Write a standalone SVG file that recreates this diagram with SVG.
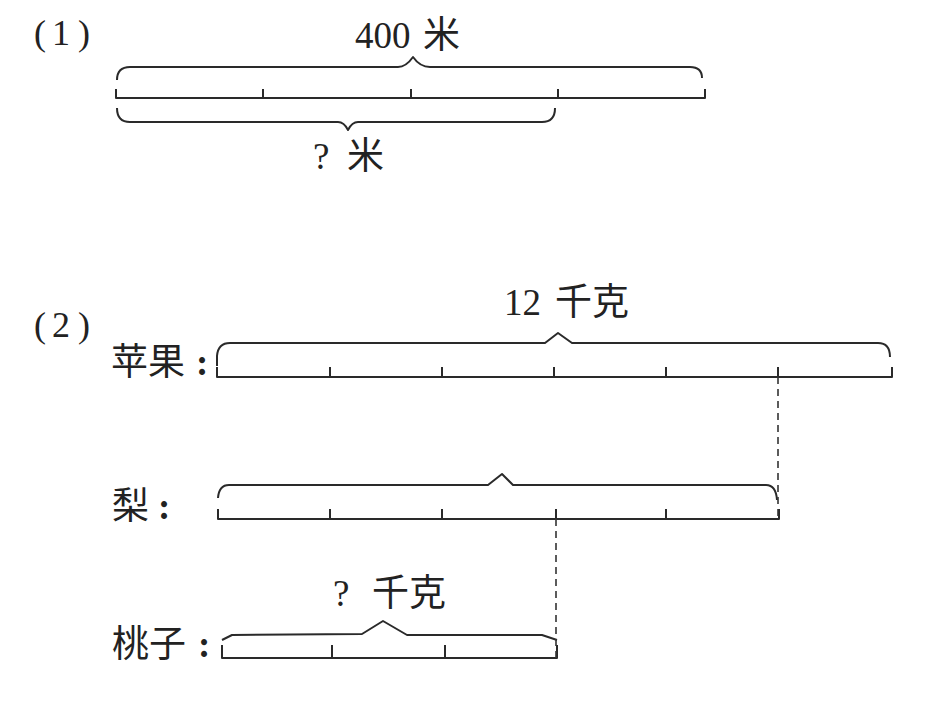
<svg xmlns="http://www.w3.org/2000/svg" width="932" height="712" viewBox="0 0 932 712">
<style>
  .t { font-family: "Liberation Serif", "Noto Sans CJK SC", serif; font-size: 37px; fill: #222; }
  .lab { font-family: "Liberation Serif", "Noto Sans CJK SC", serif; font-size: 36px; fill: #222; }
  .ln { fill: none; stroke: #2a2a2a; stroke-width: 2; stroke-linejoin: round; stroke-linecap: butt; }
  .dash { fill: none; stroke: #333; stroke-width: 1.6; stroke-dasharray: 7 5; }
  .colon { font-weight: bold; }
</style>
<rect width="932" height="712" fill="#fff"/>

<g id="part1">
  <text class="lab" y="45"><tspan x="34">(</tspan><tspan x="52">1</tspan><tspan x="78">)</tspan></text>
  <g id="p1-bar">
    <path class="ln" d="M116,89 L116,98 L705,98 L705,89 M263,89 L263,98 M411,89 L411,98 M558,89 L558,98"/>
  </g>
  <g id="p1-top-brace">
    <path class="ln" d="M117,80 Q117,67 130,67 L398,67 Q406,67 413,57 Q420,67 430,67 L690,67 Q702,67 702,78"/>
    <text class="t" y="48"><tspan x="355">400</tspan> <tspan x="423">米</tspan></text>
  </g>
  <g id="p1-bottom-brace">
    <path class="ln" d="M117,108 Q117,122 130,122 L338,122 Q344,122 348,130 Q352,122 358,122 L542,122 Q555,122 555,108"/>
    <text class="t" y="169"><tspan x="313">?</tspan> <tspan x="347">米</tspan></text>
  </g>
</g>

<g id="part2">
  <text class="lab" y="337"><tspan x="34">(</tspan><tspan x="52">2</tspan><tspan x="78">)</tspan></text>

  <g id="apple">
    <text class="t" x="111" y="375">苹果<tspan class="colon" dx="11">:</tspan></text>
    <path class="ln" d="M217,367 L217,377 L892,377 L892,367 M330,367 L330,377 M442,367 L442,377 M554,367 L554,377 M666,367 L666,377 M778,367 L778,377"/>
    <path class="ln" d="M217,366 L217,356 Q218,343 230,343 L545,343 L558,333 L572,343 L878,343 Q890,343 890,357"/>
    <text class="t" y="315"><tspan x="504">12</tspan> <tspan x="555">千克</tspan></text>
  </g>

  <g id="pear">
    <text class="t" x="112" y="519">梨<tspan class="colon" dx="9">:</tspan></text>
    <path class="ln" d="M218,509 L218,519 L779,519 L779,509 M330,509 L330,519 M442,509 L442,519 M556,509 L556,519 M666,509 L666,519"/>
    <path class="ln" d="M218,498 Q219,485 229,485 L488,485 L502,474 L513,485 L766,485 Q776,485 777,500"/>
  </g>

  <g id="peach">
    <text class="t" x="112" y="657">桃子<tspan class="colon" dx="12">:</tspan></text>
    <path class="ln" d="M222,645 L222,658 L557,658 L557,645 M332,645 L332,658 M445,645 L445,658"/>
    <path class="ln" d="M222,640 L232,635 L362,634 L383,621 L407,635 L542,635 L557,640"/>
    <text class="t" y="606"><tspan x="333">?</tspan> <tspan x="372">千克</tspan></text>
  </g>
</g>

<g id="connectors">
  <path class="dash" d="M778,377 L778,519"/>
  <path class="dash" d="M556,519 L556,658"/>
</g>
</svg>
